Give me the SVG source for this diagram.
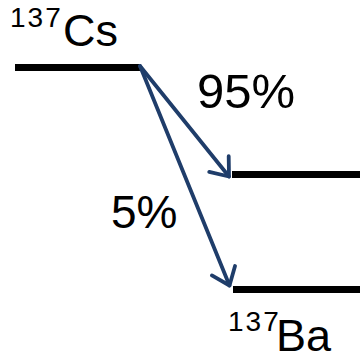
<svg xmlns="http://www.w3.org/2000/svg" width="360" height="354" viewBox="0 0 360 354">
<defs>
<style>
.lvl{fill:#000}
.arr{stroke:#1F3D6A;stroke-width:3.8;fill:none;stroke-linecap:round}
.t{font-family:"Liberation Sans",Arial,sans-serif;fill:#000}
.sup{font-size:28px;letter-spacing:2px}
</style>
<marker id="ah" markerUnits="userSpaceOnUse" markerWidth="40" markerHeight="40" refX="0" refY="0" viewBox="-25 -20 30 40" orient="auto" overflow="visible">
<path d="M-16,-12.5 L0,0 L-16,12.5" fill="none" stroke="#1F3D6A" stroke-width="3.8" stroke-linecap="round" stroke-linejoin="round"/>
</marker>
</defs>
<rect width="360" height="354" fill="#fff"/>
<g id="cs">
<rect class="lvl" x="15" y="64" width="125" height="7"/>
<text class="t sup" x="10" y="27">137</text>
<text class="t" x="63" y="46" font-size="45">Cs</text>
</g>
<g id="ba-excited">
<rect class="lvl" x="232" y="171" width="128" height="7"/>
</g>
<g id="ba">
<rect class="lvl" x="233" y="286" width="127" height="7"/>
<text class="t sup" x="228" y="331">137</text>
<text class="t" x="276" y="351" font-size="45">Ba</text>
</g>
<g id="connectors">
<line class="arr" x1="140" y1="66" x2="229" y2="176.5" marker-end="url(#ah)"/>
<line class="arr" x1="140" y1="66" x2="229.5" y2="285.5" marker-end="url(#ah)"/>
<text class="t" x="197" y="107.5" font-size="49">95%</text>
<text class="t" x="111" y="228" font-size="46">5%</text>
</g>
</svg>
